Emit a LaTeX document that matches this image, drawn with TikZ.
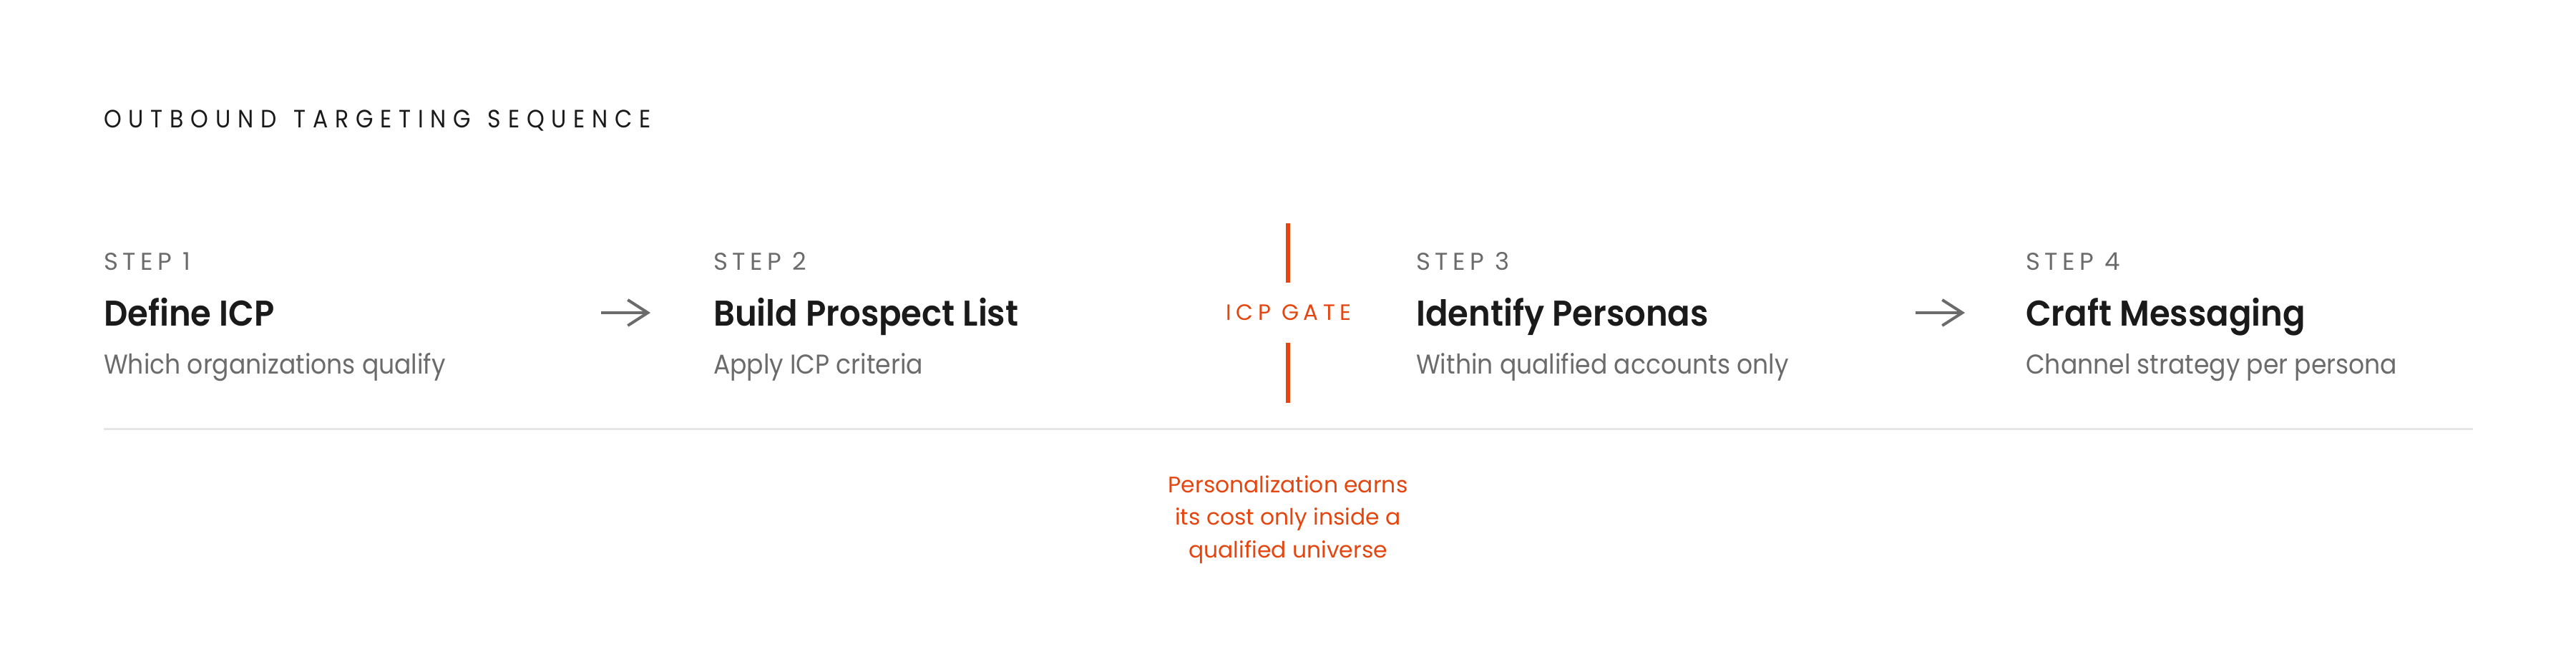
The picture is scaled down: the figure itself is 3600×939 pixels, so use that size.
\documentclass[tikz,border=0pt]{standalone}
\usepackage{fontspec}
\setmainfont{Poppins}[BoldFont={Poppins SemiBold}]
\newfontfamily\titlefont{Poppins}[LetterSpace=28,FakeStretch=0.9,WordSpace=1.3]
\newfontfamily\stepfont{Poppins}[LetterSpace=19]
\newfontfamily\gatefont{Poppins}[LetterSpace=21]
\newfontfamily\headfont{Poppins SemiBold}[FakeStretch=0.93]
\newfontfamily\subfont{Poppins}[FakeStretch=0.91]
\usetikzlibrary{arrows.meta}
\definecolor{ink}{HTML}{1A1A1A}
\definecolor{muted}{HTML}{6B6B6B}
\definecolor{gateorange}{HTML}{E5450F}
\definecolor{rulegray}{HTML}{E5E5E5}

\begin{document}
\begin{tikzpicture}[x=1pt,y=-1pt,
    txt/.style={inner sep=0pt,anchor=base west},
    kicker/.style={txt,text=muted,font=\stepfont\fontsize{34}{40}\selectfont},
    heading/.style={txt,text=ink,font=\headfont\fontsize{50}{60}\selectfont},
    sub/.style={txt,text=muted,font=\subfont\fontsize{38}{46}\selectfont},
    flow/.style={draw=muted,line width=4pt,-{Straight Barb[length=28pt,width=36pt]}},
    gateline/.style={draw=gateorange,line width=6pt}]

    \useasboundingbox (0,0) rectangle (3600,939);

    \node[txt,text=ink,font=\titlefont\fontsize{35}{42}\selectfont] (title) at (145,178)
    {OUTBOUND TARGETING SEQUENCE};

    % steps
    \node[kicker] (k1) at (145,377) {STEP 1};
    \node[heading] (h1) at (145,455) {Define ICP};
    \node[sub] (s1) at (145,522) {Which organizations qualify};

    \node[kicker] (k2) at (997,377) {STEP 2};
    \node[heading] (h2) at (997,455) {Build Prospect List};
    \node[sub] (s2) at (997,522) {Apply ICP criteria};

    \node[kicker] (k3) at (1979,377) {STEP 3};
    \node[heading] (h3) at (1979,455) {Identify Personas};
    \node[sub] (s3) at (1979,522) {Within qualified accounts only};

    \node[kicker] (k4) at (2831,377) {STEP 4};
    \node[heading] (h4) at (2831,455) {Craft Messaging};
    \node[sub] (s4) at (2831,522) {Channel strategy per persona};

    \coordinate (a1) at (840,437);
    \coordinate (b1) at (909,437);
    \coordinate (a2) at (2677,437);
    \coordinate (b2) at (2746,437);
    \draw[flow] (a1) -- (b1);
    \draw[flow] (a2) -- (b2);

    % gate
    \node[inner sep=0pt,anchor=base,text=gateorange,font=\gatefont\fontsize{31}{36}\selectfont] (gate) at (1801,447)
    {ICP GATE};
    \coordinate (g1) at (1800,312);
    \coordinate (g2) at (1800,395);
    \coordinate (g3) at (1800,479);
    \coordinate (g4) at (1800,563);
    \draw[gateline] (g1) -- (g2);
    \draw[gateline] (g3) -- (g4);

    \coordinate (r1) at (145,599);
    \coordinate (r2) at (3456,599);
    \draw[draw=rulegray,line width=3pt] (r1) -- (r2);

    \node[inner sep=0pt,anchor=north,align=center,text=gateorange,font=\fontsize{31.4}{45.5}\selectfont] (note) at (1800,664)
    {Personalization earns\\its cost only inside a\\qualified universe};
\end{tikzpicture}
\end{document}
